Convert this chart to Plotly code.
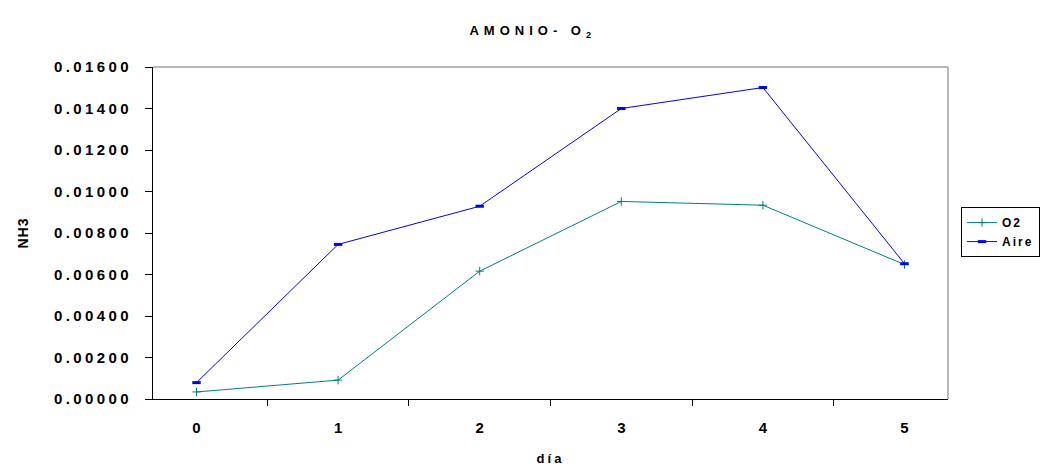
import plotly.graph_objects as go

dias = ["0", "1", "2", "3", "4", "5"]
o2 = [0.00034, 0.00091, 0.00616, 0.00952, 0.00934, 0.00648]
aire = [0.00079, 0.00745, 0.00929, 0.01400, 0.01501, 0.00652]
y_ticks = [0.0, 0.002, 0.004, 0.006, 0.008, 0.010, 0.012, 0.014, 0.016]

FONT = "Liberation Sans, Arial, sans-serif"


def spaced(text, px):
    return f'<span style="letter-spacing:{px}px">{text}</span>'


fig = go.Figure()
fig.add_trace(go.Scatter(
    x=dias, y=o2, name=spaced("O2", 2), mode="lines+markers",
    line=dict(color="#008080", width=1),
    marker=dict(symbol="cross-thin", size=6, line=dict(color="#008080", width=1)),
))
fig.add_trace(go.Scatter(
    x=dias, y=aire, name=spaced("Aire", 2), mode="lines+markers",
    line=dict(color="#0000ff", width=1),
    marker=dict(symbol="line-ew", size=6, line=dict(color="#0000ff", width=3)),
))

fig.update_layout(
    width=1055, height=469,
    margin=dict(l=153, r=107, t=67, b=70, autoexpand=False),
    paper_bgcolor="white", plot_bgcolor="white",
    font=dict(family=FONT, color="black"),
    title=dict(
        text=spaced("AMONIO- O<sub>2</sub>", 5),
        x=0.505, xanchor="center", y=0.935, yanchor="middle",
        font=dict(size=13, weight="bold"),
    ),
    showlegend=True,
    legend=dict(
        x=1.0164, y=0.578, xanchor="left", yanchor="top",
        bordercolor="black", borderwidth=1, bgcolor="white",
        font=dict(size=12, weight="bold"),
        tracegroupgap=0, itemwidth=30,
    ),
    xaxis=dict(
        type="category", categoryorder="array", categoryarray=dias,
        automargin=False,
        tickson="boundaries", ticks="outside", ticklen=6, tickcolor="black",
        showline=True, linecolor="black", linewidth=1,
        showgrid=False, zeroline=False,
        tickfont=dict(size=15, weight="bold"),
        ticklabelstandoff=15,
        title=dict(text=spaced("día", 3),
                   font=dict(size=13, weight="bold"), standoff=18),
    ),
    yaxis=dict(
        range=[0, 0.016], tickvals=y_ticks,
        automargin=False,
        ticktext=[spaced(f"{v:.5f}", 3.4) for v in y_ticks],
        ticks="outside", ticklen=7, tickcolor="black",
        showline=True, linecolor="black", linewidth=1,
        showgrid=False, zeroline=False,
        tickfont=dict(size=15, weight="bold"),
        ticklabelstandoff=10,
        title=dict(text=spaced("NH3", 1), font=dict(size=14, weight="bold"),
                   standoff=22),
    ),
    shapes=[
        dict(type="line", xref="paper", yref="paper", x0=0, x1=1, y0=1, y1=1,
             line=dict(color="#a0a0a0", width=1.5)),
        dict(type="line", xref="paper", yref="paper", x0=1, x1=1, y0=0, y1=1,
             line=dict(color="#a0a0a0", width=1.5)),
    ],
)

fig.write_html("out.html")
